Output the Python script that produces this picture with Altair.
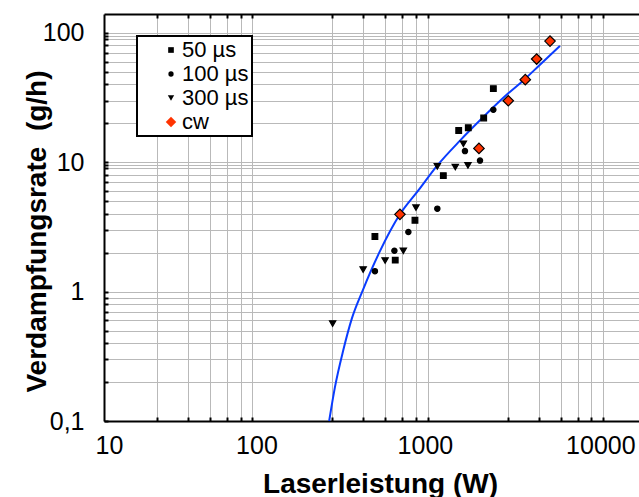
import altair as alt
import pandas as pd

FONT = "Liberation Sans"

series_order = ["50 µs", "100 µs", "300 µs", "cw"]
series_shapes = ["square", "circle", "triangle-down", "diamond"]
series_fill = ["black", "black", "black", "#ff3300"]
series_size = [32, 28, 40, 110]

p50_x = [350, 457, 592, 859, 1051, 1192, 1459, 1656]
p50_y = [2.67, 1.75, 3.56, 7.88, 17.6, 18.5, 22.0, 37.1]
p100_x = [350, 452, 543, 794, 1141, 1390, 1656]
p100_y = [1.44, 2.07, 2.89, 4.38, 12.2, 10.3, 25.5]
p300_x = [201, 300, 400, 508, 600, 794, 1005, 1117, 1187]
p300_y = [0.566, 1.48, 1.74, 2.07, 4.46, 9.3, 9.18, 13.9, 9.46]
cw_x = [486, 1371, 2014, 2518, 2924, 3483]
cw_y = [3.96, 12.8, 29.9, 43.5, 62.8, 86.4]

fit_x = [192, 207, 231, 259, 298, 371, 486, 619, 786, 1069, 1390, 2014, 2455, 3054, 3972]
fit_y = [0.1, 0.182, 0.352, 0.624, 1.02, 2.01, 3.96, 6.06, 9.3, 14.7, 21.1, 34.1, 42.9, 56.8, 79.4]

x_decades = [10, 100, 1000, 10000]
x_grid = [20, 30, 40, 50, 60, 70, 200, 300, 400, 500, 600, 700,
          2000, 3000, 4000, 5000, 6000, 7000]
y_grid = [0.1, 0.2, 0.3, 0.4, 0.5, 0.6, 0.7, 0.8, 0.9,
          1, 2, 3, 4, 5, 6, 7, 8, 9, 9.5,
          10, 20, 30, 40, 50, 60, 70, 80, 90, 95, 100]

rows = []
for name, xs, ys in [("50 µs", p50_x, p50_y), ("100 µs", p100_x, p100_y),
                     ("300 µs", p300_x, p300_y), ("cw", cw_x, cw_y)]:
    for a, b in zip(xs, ys):
        rows.append({"P": a, "R": b, "series": name})
pts = pd.DataFrame(rows)
fit = pd.DataFrame({"P": fit_x, "R": fit_y})

xscale = alt.Scale(type="log", domain=[10, 11200], nice=False)
yscale = alt.Scale(type="log", domain=[0.1, 140], nice=False)

GRID = "#b9b9b9"

x_main = alt.Axis(
    orient="bottom", values=sorted(x_grid + x_decades),
    grid=True, gridColor=GRID, gridWidth=1,
    gridOpacity={"condition": {"test": "indexof([10, 100, 1000, 10000], datum.value) >= 0", "value": 0}, "value": 1},
    ticks=False, tickSize=0, domain=True, domainColor="black", domainWidth=2,
    labelExpr="indexof([10, 100, 1000, 10000], datum.value) >= 0 ? format(datum.value, 'd') : ''",
    labelOverlap=False, labelFlush=False, labelFont=FONT, labelFontSize=25, labelColor="black",
    labelBaseline="alphabetic", labelPadding=32,
    labelOffset={"condition": [{"test": "datum.value == 10", "value": 5},
                               {"test": "datum.value == 100", "value": -23}], "value": -30},
    title="Laserleistung (W)", titleFont=FONT, titleFontSize=28, titleFontWeight="bold",
    titleColor="black", titleX=276, titleY=71, titleBaseline="alphabetic",
)
y_main = alt.Axis(
    orient="left", values=y_grid,
    grid=True, gridColor=GRID, gridWidth=1,
    ticks=False, tickSize=0, domain=True, domainColor="black", domainWidth=2,
    labelExpr="datum.value == 0.1 ? '0,1' : (indexof([1, 10, 100], datum.value) >= 0 ? format(datum.value, 'd') : '')",
    labelOverlap=False, labelFont=FONT, labelFontSize=25, labelColor="black", labelPadding=20,
    title="Verdampfungsrate\u00a0 (g/h)", titleFont=FONT, titleFontSize=28, titleFontWeight="bold",
    titleColor="black", titleX=-59, titleY=217, titleBaseline="alphabetic",
)
x_ticks_bottom = alt.Axis(orient="bottom", offset=-4, values=x_grid, grid=False, domain=False,
                          labels=False, ticks=True, tickSize=4, tickWidth=2, tickColor="black",
                          title=None, zindex=1)
x_ticks_top = alt.Axis(orient="top", offset=-4, values=x_grid, grid=False, domain=False,
                       labels=False, ticks=True, tickSize=4, tickWidth=2, tickColor="black",
                       title=None, zindex=1)
x_top_domain = alt.Axis(orient="top", values=x_grid, grid=False, domain=True, domainColor="black",
                        domainWidth=2, labels=False, ticks=False, title=None, zindex=1)
y_ticks_left = alt.Axis(orient="left", offset=-4, values=y_grid, grid=False, domain=False,
                        labels=False, ticks=True, tickSize=4, tickWidth=2, tickColor="black",
                        title=None, zindex=1)

legend = alt.Legend(
    title=None, orient="none", legendX=33, legendY=22, fillColor="white", strokeColor="black",
    padding=3, labelFont=FONT, labelFontSize=22, labelColor="black",
    labelOffset=0, symbolOffset=20, symbolStrokeColor="black", symbolStrokeWidth=1,
    labelExpr="(length(datum.label) < 6 ? '\u2007' : '') + datum.label + '\u2007'",
)

points = alt.Chart(pts).mark_point(filled=True, stroke="black", strokeWidth=1.2, opacity=1).encode(
    x=alt.X("P:Q", scale=xscale, axis=x_main),
    y=alt.Y("R:Q", scale=yscale, axis=y_main),
    fill=alt.Fill("series:N", scale=alt.Scale(domain=series_order, range=series_fill), legend=legend),
    shape=alt.Shape("series:N", scale=alt.Scale(domain=series_order, range=series_shapes), legend=legend),
    size=alt.Size("series:N", scale=alt.Scale(type="ordinal", domain=series_order, range=series_size), legend=legend),
)

line = alt.Chart(fit).mark_line(color="#0a3cff", strokeWidth=2, interpolate="monotone").encode(
    x=alt.X("P:Q", scale=xscale, axis=x_ticks_bottom),
    y=alt.Y("R:Q", scale=yscale, axis=y_ticks_left),
)
top1 = alt.Chart(fit).mark_line(opacity=0).encode(
    x=alt.X("P:Q", scale=xscale, axis=x_top_domain),
    y=alt.Y("R:Q", scale=yscale, axis=None),
)
top2 = alt.Chart(fit).mark_line(opacity=0).encode(
    x=alt.X("P:Q", scale=xscale, axis=x_ticks_top),
    y=alt.Y("R:Q", scale=yscale, axis=None),
)

chart = alt.layer(line, points, top1, top2).resolve_axis(
    x="independent", y="independent"
).properties(
    width=535, height=407,
    autosize=alt.AutoSizeParams(type="none"),
    padding={"left": 104, "top": 14, "right": 0, "bottom": 76},
    background="white",
).configure_view(stroke=None).configure_legend(strokeWidth=2, cornerRadius=0)

chart.save("out.html", embed_options={"renderer": "svg", "actions": False})
